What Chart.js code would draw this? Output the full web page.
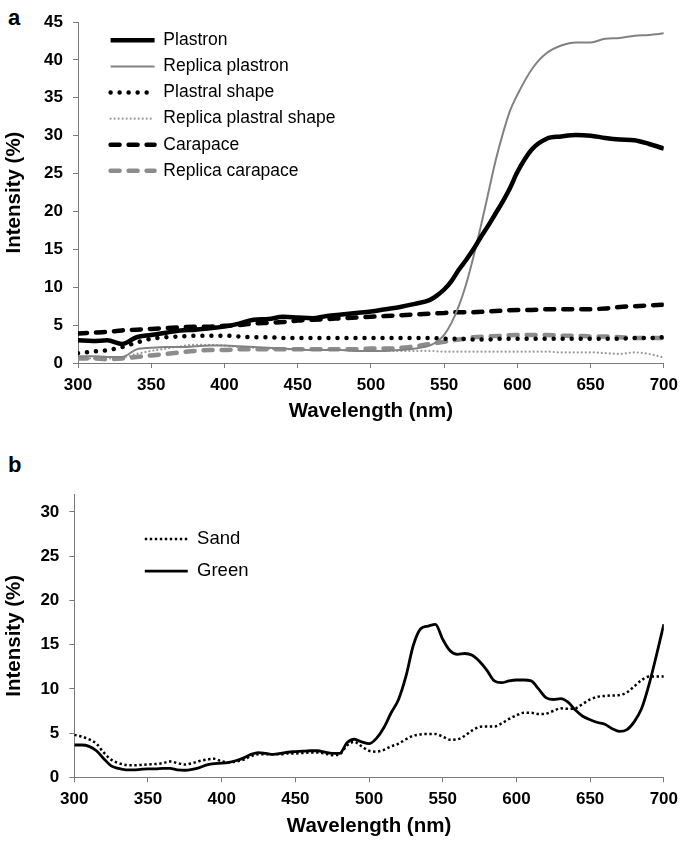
<!DOCTYPE html>
<html>
<head>
<meta charset="utf-8">
<script src="https://cdn.jsdelivr.net/npm/chart.js@4/dist/chart.umd.min.js"></script>
<style>
  html, body { margin:0; padding:0; background:#fff; }
  body { width:685px; height:844px; position:relative; overflow:hidden; font-family:"Liberation Sans", Arial, sans-serif; }
  .panel { position:absolute; left:0; }
  .letter { position:absolute; left:8px; font-weight:bold; font-size:22px; color:#000; line-height:1; }
</style>
</head>
<body>
<div class="letter" style="top:7px;">a</div>
<div class="letter" style="top:454px;">b</div>
<div class="panel" style="top:0;"><canvas id="chartA" width="685" height="440"></canvas></div>
<div class="panel" style="top:440px;"><canvas id="chartB" width="685" height="404"></canvas></div>
<script>
// ---------- Panel a data ----------
const waveA = [300,310,320,330,340,350,360,370,380,390,400,410,420,430,440,450,460,470,480,490,500,
  510,520,530,540,550,560,570,580,590,600,610,620,630,640,650,660,670,680,690,700];
const waveAFine = [300,310,320,330,340,350,360,370,380,390,400,410,420,430,440,450,460,470,480,490,500,
  510,520,530,540,545,550,555,560,565,570,575,580,585,590,595,600,610,620,630,640,650,660,670,680,690,700];

const plastron = [3.0,2.9,3.0,2.5,3.4,3.7,4.0,4.3,4.4,4.6,4.8,5.2,5.7,5.8,6.1,6.0,5.9,6.2,6.4,6.6,6.8,
  7.1,7.4,7.8,8.3,8.9,9.7,10.8,12.3,13.6,15.0,16.6,18.1,19.7,21.3,23.1,25.2,
  28.2,29.6,29.9,30.1,30.0,29.7,29.5,29.4,28.9,28.3];
const replicaPlastron = [0.9,0.9,0.8,0.8,1.8,2.0,2.1,2.1,2.2,2.3,2.3,2.2,2.1,2.0,1.9,1.8,1.7,1.7,1.7,1.6,1.6,
  1.6,1.7,1.9,2.3,2.8,3.7,5.3,7.5,10.4,14.0,18.0,22.3,26.6,30.2,33.3,35.4,
  38.8,40.9,41.9,42.3,42.3,42.8,42.9,43.2,43.3,43.5];
const plastralShape = [1.3,1.5,1.7,2.1,2.7,3.2,3.4,3.5,3.6,3.6,3.6,3.5,3.4,3.4,3.3,3.3,3.3,3.3,3.3,3.3,3.3,
  3.3,3.3,3.3,3.3,3.2,3.2,3.1,3.1,3.2,3.2,3.2,3.2,3.2,3.2,3.2,3.2,3.2,3.3,3.3,3.4];
const replicaPlastralShape = [0.6,0.6,0.6,0.7,1.2,1.6,1.9,2.2,2.4,2.4,2.3,2.1,2.0,1.9,1.8,1.8,1.7,1.7,1.7,1.6,1.6,
  1.6,1.6,1.6,1.6,1.5,1.5,1.5,1.5,1.5,1.5,1.5,1.5,1.4,1.4,1.4,1.3,1.2,1.4,1.2,0.7];
const carapace = [3.9,4.0,4.1,4.3,4.4,4.5,4.6,4.7,4.8,4.8,4.9,5.0,5.2,5.3,5.4,5.6,5.7,5.8,5.9,6.0,6.1,
  6.2,6.3,6.4,6.5,6.6,6.7,6.7,6.8,6.9,7.0,7.0,7.1,7.1,7.1,7.1,7.2,7.4,7.5,7.6,7.7];
const replicaCarapace = [0.6,0.6,0.5,0.6,0.8,1.0,1.2,1.4,1.6,1.7,1.7,1.8,1.8,1.8,1.8,1.8,1.8,1.8,1.8,1.8,1.9,
  1.9,2.0,2.2,2.5,2.8,3.1,3.4,3.5,3.6,3.7,3.7,3.7,3.6,3.6,3.5,3.5,3.4,3.3,3.3,3.3];

// ---------- Panel b data ----------
const waveB = [300,305,310,315,320,325,330,335,340,345,350,355,360,365,370,375,380,385,390,395,
  400,405,410,415,420,425,430,435,440,445,450,455,460,465,470,475,480,485,490,495,
  500,505,510,515,520,525,530,535,540,545,550,555,560,565,570,575,580,585,590,595,
  600,605,610,615,620,625,630,635,640,645,650,655,660,665,670,675,680,685,690,695,700];
const sand = [4.8,4.6,4.3,3.8,2.8,2.0,1.6,1.4,1.35,1.4,1.45,1.5,1.6,1.8,1.6,1.45,1.6,1.85,2.0,2.1,
  1.8,1.7,1.8,2.0,2.4,2.6,2.6,2.6,2.6,2.7,2.7,2.75,2.8,2.8,2.7,2.5,2.6,3.6,4.0,3.5,
  3.0,2.9,3.1,3.5,3.8,4.3,4.7,4.85,4.9,4.9,4.6,4.25,4.3,4.7,5.3,5.7,5.75,5.75,6.1,6.6,
  7.0,7.3,7.3,7.15,7.2,7.5,7.8,7.75,7.8,8.3,8.8,9.1,9.2,9.25,9.3,9.6,10.3,11.0,11.4,11.4,11.4];
const green = [3.65,3.65,3.5,3.0,2.1,1.3,1.0,0.85,0.85,0.9,0.95,0.95,1.0,1.0,0.85,0.8,0.9,1.1,1.4,1.55,
  1.6,1.7,1.9,2.2,2.6,2.8,2.7,2.6,2.7,2.85,2.9,2.95,3.0,3.0,2.85,2.7,2.7,3.9,4.3,4.0,
  3.8,4.4,5.6,7.3,8.8,11.4,14.9,16.8,17.1,17.3,15.6,14.3,13.9,14.0,13.8,13.1,12.1,10.9,10.7,10.9,
  11.0,11.0,10.9,10.0,9.0,8.8,8.9,8.5,7.6,6.9,6.5,6.2,6.0,5.5,5.2,5.4,6.3,7.8,10.5,13.8,17.3];

const ticksA = { min: 0, max: 45, step: 5 };
const ticksB = { min: 0, max: 32, step: 5 };
const ticksX = { min: 300, max: 700, step: 50 };

// ---------- helpers ----------
const FONT = '"Liberation Sans", Arial, sans-serif';
const pts = (xs, ys) => xs.map((x, i) => ({ x: x, y: ys[i] }));

const legendShift = {
  id: 'legendShift',
  afterLayout(chart, args, opts) {
    if (chart.legend) {
      chart.legend.left = chart.chartArea.left + (opts.dx || 0);
      chart.legend.top = chart.chartArea.top + (opts.dy || 0);
    }
  }
};

function lineLegendLabels(chart) {
  return chart.data.datasets.map((ds, i) => ({
    text: ds.label,
    fillStyle: ds.borderColor,
    strokeStyle: ds.borderColor,
    lineWidth: ds.borderWidth,
    lineDash: ds.borderDash || [],
    lineCap: ds.borderCapStyle || 'butt',
    pointStyle: 'line',
    fontColor: '#000',
    hidden: false,
    datasetIndex: i
  }));
}

function makeOptions(cfg) {
  return {
    responsive: false,
    animation: false,
    devicePixelRatio: 1,
    events: [],
    layout: { padding: cfg.padding },
    elements: { point: { radius: 0 }, line: { cubicInterpolationMode: 'monotone', borderJoinStyle: 'round' } },
    plugins: {
      tooltip: { enabled: false },
      legendShift: { dx: cfg.legendDx, dy: cfg.legendDy },
      legend: {
        position: 'chartArea',
        align: 'start',
        labels: {
          usePointStyle: true,
          pointStyleWidth: cfg.boxWidth,
          boxWidth: cfg.boxWidth,
          padding: cfg.legendPadding,
          color: '#000',
          font: { family: FONT, size: cfg.legendSize },
          generateLabels: lineLegendLabels
        }
      }
    },
    scales: {
      x: {
        type: 'linear', min: ticksX.min, max: ticksX.max,
        ticks: { stepSize: ticksX.step, color: '#000', font: { family: FONT, size: 17, weight: 'bold' }, padding: 7, maxRotation: 0, autoSkip: false },
        grid: { drawOnChartArea: false, tickLength: 5, color: '#7a7a7a' },
        border: { color: '#7a7a7a', width: 1 },
        title: { display: true, text: 'Wavelength (nm)', color: '#000', font: { family: FONT, size: 20.5, weight: 'bold' }, padding: { top: 0, bottom: cfg.xTitlePad } },
        afterFit(s) { s.height = cfg.xHeight; }
      },
      y: {
        type: 'linear', min: cfg.yTicks.min, max: cfg.yTicks.max,
        ticks: { stepSize: cfg.yTicks.step, includeBounds: false, color: '#000', font: { family: FONT, size: 17, weight: 'bold' }, padding: 10 },
        grid: { drawOnChartArea: false, tickLength: 5, color: '#7a7a7a' },
        border: { color: '#7a7a7a', width: 1 },
        title: { display: true, text: 'Intensity (%)', color: '#000', font: { family: FONT, size: 20.5, weight: 'bold' }, padding: { top: 2, bottom: 0 } },
        afterFit(s) { s.width = cfg.yWidth; }
      }
    }
  };
}

// ---------- Panel a ----------
new Chart(document.getElementById('chartA'), {
  type: 'line',
  plugins: [legendShift],
  data: {
    datasets: [
      { label: 'Plastron', data: pts(waveAFine, plastron), borderColor: '#000000', borderWidth: 4.5, order: 1 },
      { label: 'Replica plastron', data: pts(waveAFine, replicaPlastron), borderColor: '#828282', borderWidth: 2, order: 2 },
      { label: 'Plastral shape', data: pts(waveA, plastralShape), borderColor: '#000000', borderWidth: 4.5, borderDash: [0.01, 9], borderCapStyle: 'round', order: 3 },
      { label: 'Replica plastral shape', data: pts(waveA, replicaPlastralShape), borderColor: '#9a9a9a', borderWidth: 2.2, borderDash: [0.01, 4], borderCapStyle: 'round', order: 6 },
      { label: 'Carapace', data: pts(waveA, carapace), borderColor: '#000000', borderWidth: 4.5, borderDash: [9, 9], borderCapStyle: 'round', order: 4 },
      { label: 'Replica carapace', data: pts(waveA, replicaCarapace), borderColor: '#8c8c8c', borderWidth: 4.5, borderDash: [9, 9], borderCapStyle: 'round', order: 5 }
    ]
  },
  options: makeOptions({
    padding: { left: 0, right: 17, top: 22, bottom: 0 },
    xHeight: 77, yWidth: 78, xTitlePad: 16, yTicks: ticksA,
    legendDx: 24, legendDy: 1, legendPadding: 8.6, legendSize: 17.5, boxWidth: 44
  })
});

// ---------- Panel b ----------
new Chart(document.getElementById('chartB'), {
  type: 'line',
  plugins: [legendShift],
  data: {
    datasets: [
      { label: 'Sand', data: pts(waveB, sand), borderColor: '#000000', borderWidth: 2.5, borderDash: [2.4, 2.6], order: 2 },
      { label: 'Green', data: pts(waveB, green), borderColor: '#000000', borderWidth: 2.8, order: 1 }
    ]
  },
  options: makeOptions({
    padding: { left: 0, right: 16.7, top: 54.3, bottom: 0 },
    xHeight: 66.7, yWidth: 74.3, xTitlePad: 5, yTicks: ticksB,
    legendDx: 57, legendDy: 22, legendPadding: 13.5, legendSize: 18.5, boxWidth: 43
  })
});
</script>
</body>
</html>
